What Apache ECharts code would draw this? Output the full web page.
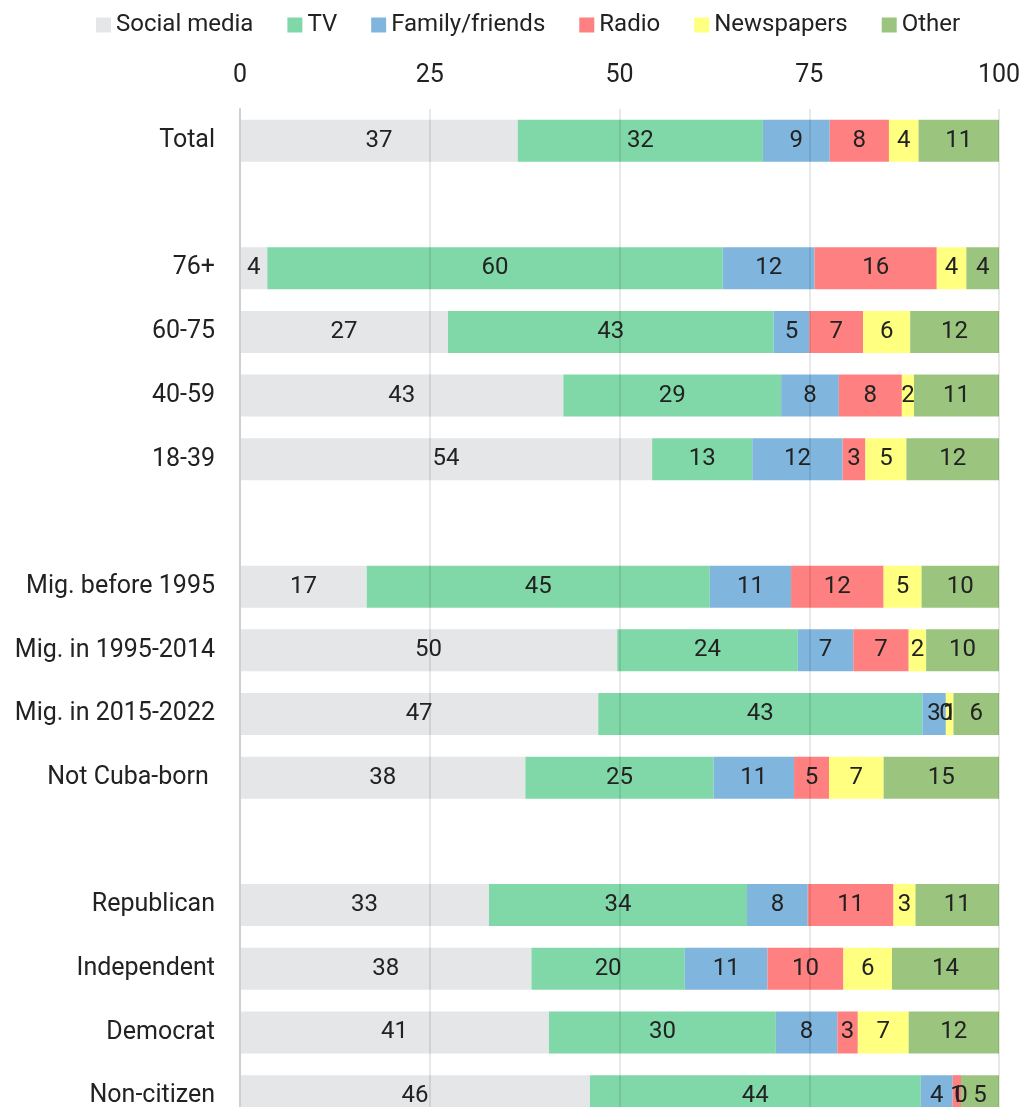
<!DOCTYPE html>
<html>
<head>
<meta charset="utf-8">
<script src="https://cdn.jsdelivr.net/npm/echarts@6/dist/echarts.min.js"></script>
<style>
  html, body { margin: 0; padding: 0; background: #fff; overflow: hidden; }
  #chart { width: 1024px; height: 1160px; }
</style>
</head>
<body>
<div id="chart"></div>
<script>
// categories (blank strings are spacer rows)
const categories = [
  'Total', '',
  '76+', '60-75', '40-59', '18-39', '',
  'Mig. before 1995', 'Mig. in 1995-2014', 'Mig. in 2015-2022', 'Not Cuba-born ', '',
  'Republican', 'Independent', 'Democrat', 'Non-citizen'
];

// shares in %
const socialMedia = [36.6, null, 3.6, 27.4, 42.6, 54.3, null, 16.7, 49.7, 47.2, 37.6, null, 32.8, 38.4, 40.7, 46.1];
const tv          = [32.3, null, 60.0, 42.9, 28.7, 13.2, null, 45.2, 23.8, 42.7, 24.8, null, 34.0, 20.2, 29.9, 43.6];
const family      = [8.8,  null, 12.1, 4.7,  7.6,  11.9, null, 10.7, 7.3,  3.1,  10.6, null, 8.0,  10.9, 8.1,  4.2];
const radio       = [7.8,  null, 16.1, 7.1,  8.3,  3.0,  null, 12.2, 7.3,  0,    4.6,  null, 11.3, 10.0, 2.7,  1.1];
const newspapers  = [3.9,  null, 3.9,  6.2,  1.6,  5.4,  null, 5.0,  2.3,  1.0,  7.2,  null, 2.9,  6.4,  6.7,  0];
const other       = [10.6, null, 4.3,  11.7, 11.2, 12.2, null, 10.2, 9.6,  6.0,  15.2, null, 11.0, 14.1, 11.9, 5.0];

const xTicks = [0, 25, 50, 75, 100];

const seriesDefs = [
  { name: 'Social media', data: socialMedia, color: '#e5e6e8' },
  { name: 'TV', data: tv, color: '#80d8a8' },
  { name: 'Family/friends', data: family, color: '#80b6de' },
  { name: 'Radio', data: radio, color: '#ff8080' },
  { name: 'Newspapers', data: newspapers, color: '#ffff80' },
  { name: 'Other', data: other, color: '#9bc57e' },
];

const fontFamily = 'Roboto, "Noto Sans", sans-serif';
const textColor = '#222';
const fontSize = 25;

const chart = echarts.init(document.getElementById('chart'));

chart.setOption({
  animation: false,
  textStyle: { fontFamily: fontFamily },
  legend: {
    top: 8,
    left: 91,
    icon: 'rect',
    itemWidth: 15,
    itemHeight: 15,
    itemGap: 34,
    textStyle: { color: textColor, fontSize: 24, fontFamily: fontFamily },
    data: seriesDefs.map(s => s.name),
  },
  grid: {
    left: 240,
    right: 25,
    top: 109,
    bottom: 32,
  },
  xAxis: {
    type: 'value',
    position: 'top',
    min: xTicks[0],
    max: xTicks[xTicks.length - 1],
    interval: 25,
    z: 5,
    axisLine: { show: false },
    axisTick: { show: false },
    axisLabel: {
      color: textColor,
      fontSize: fontSize,
      margin: 21,
      fontFamily: fontFamily,
    },
    splitLine: {
      lineStyle: { color: 'rgba(0, 0, 0, 0.09)', width: 2 },
    },
  },
  yAxis: {
    type: 'category',
    inverse: true,
    data: categories,
    z: 5,
    axisLine: {
      show: true,
      lineStyle: { color: '#cfcfcf', width: 2 },
    },
    axisTick: { show: false },
    axisLabel: {
      color: textColor,
      fontSize: fontSize,
      margin: 25,
      fontFamily: fontFamily,
    },
  },
  series: seriesDefs.map(s => ({
    name: s.name,
    type: 'bar',
    stack: 'total',
    barWidth: 42,
    data: s.data,
    itemStyle: { color: s.color },
    label: {
      show: true,
      position: 'inside',
      color: textColor,
      fontSize: 24,
      fontFamily: fontFamily,
      formatter: p => (p.value == null ? '' : String(Math.round(p.value))),
    },
  })),
});
</script>
</body>
</html>
